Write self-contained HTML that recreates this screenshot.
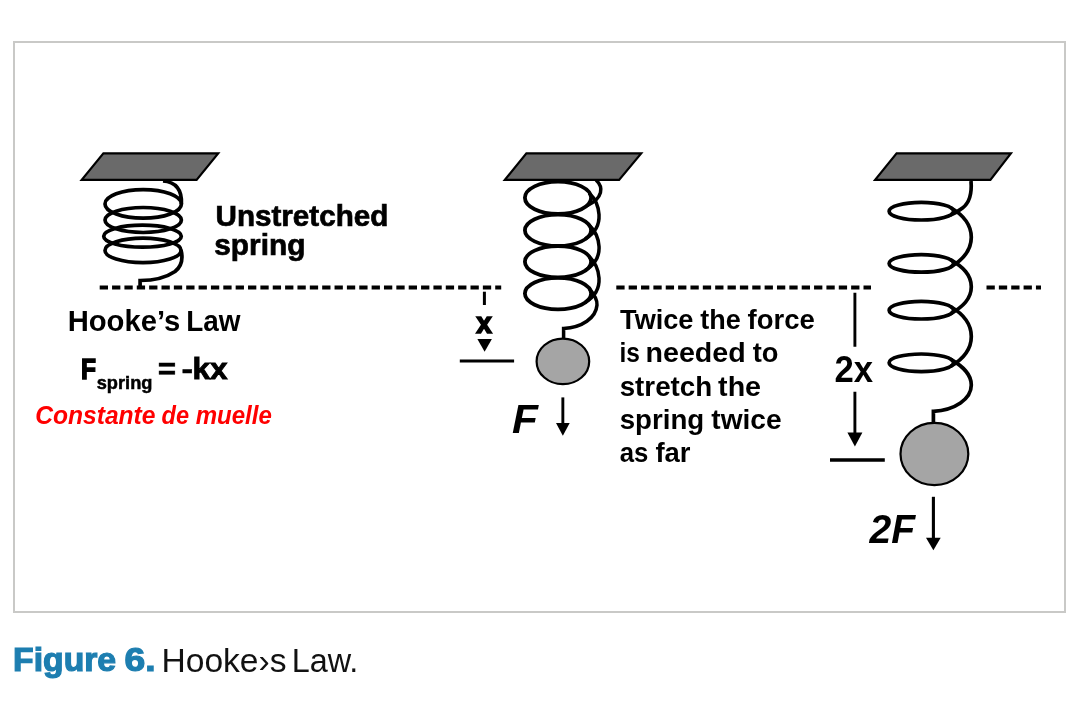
<!DOCTYPE html>
<html><head><meta charset="utf-8"><title>Hooke's Law</title>
<style>html,body{margin:0;padding:0;background:#fff}svg{display:block;will-change:transform}</style>
</head><body>
<svg width="1089" height="702" viewBox="0 0 1089 702">
<rect x="0" y="0" width="1089" height="702" fill="#fff"/>
<rect x="14" y="42" width="1051" height="570" fill="none" stroke="#c9c9c7" stroke-width="2"/>
<g fill="none" stroke="#000" stroke-width="3.7" stroke-linecap="butt" stroke-linejoin="miter">
<ellipse cx="143.2" cy="203.9" rx="38.2" ry="14.3"/>
<ellipse cx="143.2" cy="220" rx="38.2" ry="12.5"/>
<ellipse cx="142.5" cy="236.2" rx="38.8" ry="11"/>
<ellipse cx="143" cy="250.4" rx="38" ry="12.3"/>
<path d="M163,181 C176,182 182,190 181.4,204"/>
<path d="M181,250 C183,258 182,266 175,271.5 C167,277 155,280.5 140.1,280.5 V287.5"/>
<ellipse cx="558" cy="197.8" rx="33.1" ry="16.2" stroke-width="3.8"/>
<ellipse cx="558" cy="230.3" rx="33.1" ry="15.7" stroke-width="3.8"/>
<ellipse cx="558" cy="261.7" rx="33.1" ry="15.7" stroke-width="3.8"/>
<ellipse cx="558" cy="293.6" rx="33.1" ry="15.7" stroke-width="3.8"/>
<path stroke-width="3.5" d="M596,180 C603.5,187 603.5,198 586.7,205.9"/>
<path stroke-width="3.5" d="M589.1,193.1 C599,202.2 607,226.3 585.1,239.1"/>
<path stroke-width="3.5" d="M589.1,225.1 C599,234.3 607,257.7 585.1,270.5"/>
<path stroke-width="3.5" d="M589.1,256.5 C599,265.7 607,289.6 585.1,302.4"/>
<path stroke-width="3.5" d="M589.1,288.3 C594,294 597.5,299 597,305 C596,318 582,327.5 563.6,328.5 V338.5"/>
<ellipse cx="921.3" cy="211.2" rx="32.2" ry="8.8"/>
<ellipse cx="921.3" cy="263.4" rx="32.2" ry="8.8"/>
<ellipse cx="921.3" cy="310.2" rx="32.2" ry="8.8"/>
<ellipse cx="921.3" cy="362.8" rx="32.2" ry="8.8"/>
<path d="M971,181 C972,193 970.5,202 962.5,208 C958.5,211 955,213.3 950.5,214.9"/>
<path d="M950.5,207.5 C963,214.8 971.3,225.3 971.3,237.3 C971.3,249.3 963,259.8 950.5,267.1"/>
<path d="M950.5,259.7 C963,267.0 971.3,274.8 971.3,286.8 C971.3,298.8 963,306.6 950.5,313.9"/>
<path d="M950.5,306.5 C963,313.8 971.3,324.5 971.3,336.5 C971.3,348.5 963,359.2 950.5,366.5"/>
<path d="M950.5,359.1 C963,366.4 971.3,374 971.3,385 C971.3,399 955,410 933.4,411.3 V422.5"/>
</g>
<g fill="#6a6a6a" stroke="#000" stroke-width="2.2" stroke-linejoin="miter">
<polygon points="103.4,153.4 218.2,153.4 196.6,179.9 81.7,179.9"/>
<polygon points="526.4,153.4 641.2,153.4 619.1,179.9 504.8,179.9"/>
<polygon points="896.6,153.4 1010.9,153.4 990.4,179.9 875.1,179.9"/>
</g>
<g stroke="#000" stroke-width="4" stroke-dasharray="8.3 4.06" fill="none">
<path d="M99.7,287.5H501.2"/>
<path d="M616.3,287.5H871"/>
<path d="M986.5,287.5H1041"/>
</g>
<g fill="#a5a5a5" stroke="#000" stroke-width="2.2">
<ellipse cx="562.9" cy="361.4" rx="26.3" ry="22.8"/>
<ellipse cx="934.4" cy="454" rx="33.9" ry="31.1"/>
</g>
<g stroke="#000" fill="none">
<path d="M484.4,291.7V305" stroke-width="3"/>
<path d="M459.8,361H514.1" stroke-width="3"/>
<path d="M562.85,397.4V425" stroke-width="2.9"/>
<path d="M854.9,292.7V346.8M854.9,391.7V434" stroke-width="2.9"/>
<path d="M830,460H884.8" stroke-width="3.3"/>
<path d="M933.4,496.8V539" stroke-width="3.1"/>
</g>
<g fill="#000">
<polygon points="477.4,338.9 491.9,338.9 484.6,351.8"/>
<polygon points="556,423 569.7,423 562.85,435.8"/>
<polygon points="847.4,432.4 862.4,432.4 854.9,446.6"/>
<polygon points="926,537.7 940.7,537.7 933.4,550.2"/>
</g>
<g font-family="'Liberation Sans', sans-serif" fill="#000">
<text x="215.5" y="225.8" font-size="29.5" font-weight="bold" stroke="#000" stroke-width="0.7" stroke-linejoin="miter" textLength="172.83" lengthAdjust="spacingAndGlyphs">Unstretched</text>
<text x="214.29" y="254.7" font-size="29.5" font-weight="bold" stroke="#000" stroke-width="0.7" stroke-linejoin="miter" textLength="91.08" lengthAdjust="spacingAndGlyphs">spring</text>
<text x="67.63" y="330.8" font-size="29.6" font-weight="bold" textLength="112.59" lengthAdjust="spacingAndGlyphs">Hooke’s</text>
<text x="186.21" y="330.8" font-size="29.6" font-weight="bold" textLength="54.27" lengthAdjust="spacingAndGlyphs">Law</text>
<text x="80.96" y="378.9" font-size="29.4" font-weight="bold" stroke="#000" stroke-width="1.5" stroke-linejoin="miter" textLength="15.0" lengthAdjust="spacingAndGlyphs">F</text>
<text x="96.69" y="389.0" font-size="18" font-weight="bold" stroke="#000" stroke-width="0.5" stroke-linejoin="miter" textLength="55.74" lengthAdjust="spacingAndGlyphs">spring</text>
<text x="157.83" y="378.5" font-size="29.4" font-weight="bold" stroke="#000" stroke-width="0.4" stroke-linejoin="miter" textLength="18.43" lengthAdjust="spacingAndGlyphs">=</text>
<text x="181.41" y="378.9" font-size="29.4" font-weight="bold" stroke="#000" stroke-width="0.5" stroke-linejoin="miter" textLength="11.63" lengthAdjust="spacingAndGlyphs">-</text>
<text x="192.45" y="378.9" font-size="29.4" font-weight="bold" stroke="#000" stroke-width="0.9" stroke-linejoin="miter" textLength="35.13" lengthAdjust="spacingAndGlyphs">kx</text>
<text x="35.15" y="423.7" font-size="26" font-weight="bold" font-style="italic" fill="#ff0000" textLength="120.37" lengthAdjust="spacingAndGlyphs">Constante</text>
<text x="161.59" y="423.7" font-size="26" font-weight="bold" font-style="italic" fill="#ff0000" textLength="27.52" lengthAdjust="spacingAndGlyphs">de</text>
<text x="195.68" y="423.7" font-size="26" font-weight="bold" font-style="italic" fill="#ff0000" textLength="76.17" lengthAdjust="spacingAndGlyphs">muelle</text>
<text x="620.1" y="328.6" font-size="27.7" font-weight="bold" textLength="73.37" lengthAdjust="spacingAndGlyphs">Twice</text>
<text x="700.3" y="328.6" font-size="27.7" font-weight="bold" textLength="40.42" lengthAdjust="spacingAndGlyphs">the</text>
<text x="747.6" y="328.6" font-size="27.7" font-weight="bold" textLength="67.21" lengthAdjust="spacingAndGlyphs">force</text>
<text x="619.53" y="362.1" font-size="27.7" font-weight="bold" textLength="20.44" lengthAdjust="spacingAndGlyphs">is</text>
<text x="645.64" y="362.1" font-size="27.7" font-weight="bold" textLength="100.06" lengthAdjust="spacingAndGlyphs">needed</text>
<text x="752.8" y="362.1" font-size="27.7" font-weight="bold" textLength="25.72" lengthAdjust="spacingAndGlyphs">to</text>
<text x="619.7" y="395.5" font-size="27.7" font-weight="bold" textLength="92.53" lengthAdjust="spacingAndGlyphs">stretch</text>
<text x="718.1" y="395.5" font-size="27.7" font-weight="bold" textLength="42.95" lengthAdjust="spacingAndGlyphs">the</text>
<text x="619.7" y="428.6" font-size="27.7" font-weight="bold" textLength="84.51" lengthAdjust="spacingAndGlyphs">spring</text>
<text x="711.3" y="428.6" font-size="27.7" font-weight="bold" textLength="70.27" lengthAdjust="spacingAndGlyphs">twice</text>
<text x="619.77" y="462.3" font-size="27.7" font-weight="bold" textLength="28.69" lengthAdjust="spacingAndGlyphs">as</text>
<text x="655.4" y="462.3" font-size="27.7" font-weight="bold" textLength="35.1" lengthAdjust="spacingAndGlyphs">far</text>
<text x="476.24" y="333.2" font-size="30" font-weight="bold" stroke="#000" stroke-width="1.6" stroke-linejoin="miter" textLength="15.63" lengthAdjust="spacingAndGlyphs">x</text>
<text x="834.44" y="381.6" font-size="36" font-weight="bold" textLength="38.61" lengthAdjust="spacingAndGlyphs">2x</text>
<text x="511.96" y="433.1" font-size="40.7" font-weight="bold" font-style="italic" textLength="25.95" lengthAdjust="spacingAndGlyphs">F</text>
<text x="869.46" y="543.0" font-size="40.9" font-weight="bold" font-style="italic" textLength="45.63" lengthAdjust="spacingAndGlyphs">2F</text>
<text x="13.11" y="671.4" font-size="32.3" font-weight="bold" fill="#1d7eb0" stroke="#1d7eb0" stroke-width="1.2" stroke-linejoin="miter" textLength="103.02" lengthAdjust="spacingAndGlyphs">Figure</text>
<text x="124.55" y="671.4" font-size="32.3" font-weight="bold" fill="#1d7eb0" stroke="#1d7eb0" stroke-width="1.2" stroke-linejoin="miter" textLength="31.09" lengthAdjust="spacingAndGlyphs">6.</text>
<text x="161.48" y="671.5" font-size="32.3" fill="#111" textLength="125.03" lengthAdjust="spacingAndGlyphs">Hooke›s</text>
<text x="291.8" y="671.5" font-size="32.3" fill="#111" textLength="66.56" lengthAdjust="spacingAndGlyphs">Law.</text>
</g>
</svg>
</body></html>
